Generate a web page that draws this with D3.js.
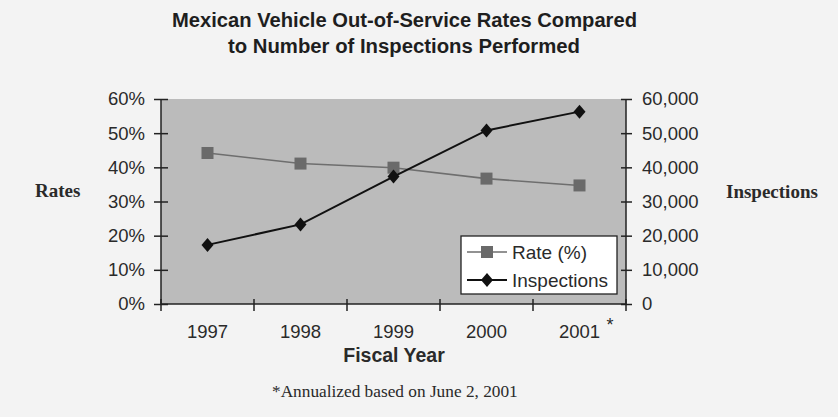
<!DOCTYPE html>
<html><head><meta charset="utf-8">
<script src="https://cdn.jsdelivr.net/npm/d3@7"></script>
<style>body{margin:0;background:#f3f3f3;} svg{display:block;}</style>
</head><body>
<svg id="chart" width="838" height="417"></svg>
<script>
const years = ["1997","1998","1999","2000","2001"];
const rates = [44.2, 41.1, 39.9, 36.7, 34.7];
const inspections = [17300, 23300, 37300, 50800, 56300];
const rateTicks = [0,10,20,30,40,50,60];
const inspTicks = [0,10000,20000,30000,40000,50000,60000];

const svg = d3.select("#chart");
svg.append("rect").attr("width",838).attr("height",417).attr("fill","#f3f3f3");
const L=161, R=626, T=99, B=304;
const x = d3.scaleBand().domain(years).range([L,R]);
const yL = d3.scaleLinear().domain([0,60]).range([B,T]);
const yR = d3.scaleLinear().domain([0,60000]).range([B,T]);

svg.append("rect").attr("x",L).attr("y",T).attr("width",R-L).attr("height",B-T).attr("fill","#bbbbbb");

const sans = "'Liberation Sans', Arial, sans-serif";
const serif = "'Liberation Serif', 'Times New Roman', serif";
const ink = "#2a2a2a";

// Left axis
const gl = svg.append("g").attr("transform",`translate(${L},0)`)
  .call(d3.axisLeft(yL).tickValues(rateTicks).tickFormat(d=>d+"%").tickSize(7).tickPadding(9));
gl.selectAll("line").attr("x2",7).attr("x1",-7);
// Right axis
const gr = svg.append("g").attr("transform",`translate(${R},0)`)
  .call(d3.axisRight(yR).tickValues(inspTicks).tickFormat(d3.format(",")).tickSize(7).tickPadding(9));
gr.selectAll("line").attr("x1",-5).attr("x2",6);
// Bottom axis: ticks at band boundaries
const gb = svg.append("g").attr("transform",`translate(0,${B})`);
gb.append("line").attr("x1",L).attr("x2",R).attr("stroke","#222").attr("stroke-width",1.5);
const bounds = years.map(d=>x(d)).concat([R]);
gb.selectAll("line.t").data(bounds).join("line").attr("class","t")
  .attr("x1",d=>d).attr("x2",d=>d).attr("y1",-5).attr("y2",7).attr("stroke","#222").attr("stroke-width",1.5);
gb.selectAll("text").data(years).join("text")
  .attr("x",d=>x(d)+x.bandwidth()/2).attr("y",34).attr("text-anchor","middle")
  .attr("font-family",sans).attr("font-size",18.5).attr("fill",ink).text(d=>d);

[gl,gr].forEach(g=>{
  g.selectAll(".domain").attr("stroke","#222").attr("stroke-width",1.5);
  g.selectAll(".tick line").attr("stroke","#222").attr("stroke-width",1.5);
  g.selectAll("text").attr("font-family",sans).attr("font-size",18.5).attr("fill",ink);
});
gl.select(".domain").attr("d",`M0,${T}V${B}`);
gr.select(".domain").attr("d",`M0,${T}V${B}`);

const cx = d => x(d)+x.bandwidth()/2;
// Rate line
svg.append("path").datum(rates)
  .attr("d", d3.line().x((d,i)=>cx(years[i])).y(d=>yL(d)))
  .attr("fill","none").attr("stroke","#6e6e6e").attr("stroke-width",1.6);
svg.selectAll("rect.rm").data(rates).join("rect").attr("class","rm")
  .attr("x",(d,i)=>cx(years[i])-6).attr("y",d=>yL(d)-6).attr("width",12).attr("height",12)
  .attr("fill","#6a6a6a");
// Inspections line
svg.append("path").datum(inspections)
  .attr("d", d3.line().x((d,i)=>cx(years[i])).y(d=>yR(d)))
  .attr("fill","none").attr("stroke","#111").attr("stroke-width",2);
const diamond = (px,py)=>`M${px},${py-7}L${px+6},${py}L${px},${py+7}L${px-6},${py}Z`;
svg.selectAll("path.im").data(inspections).join("path").attr("class","im")
  .attr("d",(d,i)=>diamond(cx(years[i]),yR(d))).attr("fill","#111");

// Legend
const lg = svg.append("g");
lg.append("rect").attr("x",461).attr("y",236).attr("width",156).attr("height",58)
  .attr("fill","#ffffff").attr("stroke","#222").attr("stroke-width",1.3);
lg.append("line").attr("x1",467).attr("x2",507).attr("y1",252).attr("y2",252).attr("stroke","#6e6e6e").attr("stroke-width",1.6);
lg.append("rect").attr("x",481).attr("y",246).attr("width",12).attr("height",12).attr("fill","#6a6a6a");
lg.append("text").attr("x",512).attr("y",258.5).attr("font-family",sans).attr("font-size",19).attr("fill",ink).text("Rate (%)");
lg.append("line").attr("x1",467).attr("x2",507).attr("y1",280).attr("y2",280).attr("stroke","#111").attr("stroke-width",2);
lg.append("path").attr("d",diamond(487,280)).attr("fill","#111");
lg.append("text").attr("x",512).attr("y",286.5).attr("font-family",sans).attr("font-size",19).attr("fill",ink).text("Inspections");

// Titles
const title = svg.append("text").attr("text-anchor","middle").attr("font-family",sans)
  .attr("font-weight","bold").attr("font-size",20).attr("fill","#1e1e1e");
title.append("tspan").attr("x",404.5).attr("y",27.3).attr("textLength",465).attr("lengthAdjust","spacingAndGlyphs")
  .text("Mexican Vehicle Out-of-Service Rates Compared");
title.append("tspan").attr("x",404).attr("y",53.3).attr("textLength",352).attr("lengthAdjust","spacingAndGlyphs")
  .text("to Number of Inspections Performed");

svg.append("text").attr("x",394).attr("y",362).attr("text-anchor","middle").attr("font-family",sans)
  .attr("font-weight","bold").attr("font-size",19.5).attr("fill",ink).text("Fiscal Year");
svg.append("text").attr("x",610).attr("y",331).attr("text-anchor","middle").attr("font-family",sans)
  .attr("font-size",18).attr("fill",ink).text("*");
svg.append("text").attr("x",35).attr("y",197).attr("font-family",serif).attr("font-weight","bold")
  .attr("font-size",19).attr("fill",ink).text("Rates");
svg.append("text").attr("x",726).attr("y",198).attr("font-family",serif).attr("font-weight","bold")
  .attr("font-size",19).attr("fill",ink).text("Inspections");
svg.append("text").attr("x",272).attr("y",397).attr("font-family",serif)
  .attr("font-size",17.3).attr("fill",ink).text("*Annualized based on June 2, 2001");
</script>
</body></html>
